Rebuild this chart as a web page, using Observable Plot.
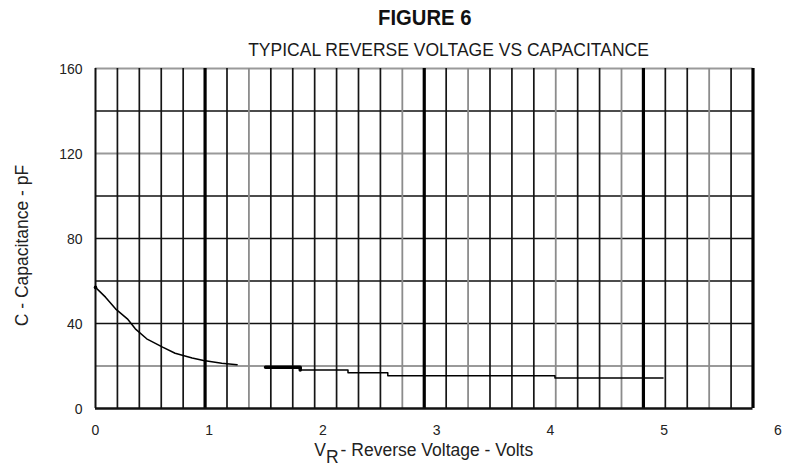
<!DOCTYPE html>
<html>
<head>
<meta charset="utf-8">
<script src="https://cdn.jsdelivr.net/npm/d3@7"></script>
<script src="https://cdn.jsdelivr.net/npm/@observablehq/plot@0.6"></script>
<style>
  body { margin: 0; background: #fff; }
  #wrap { position: relative; width: 785px; height: 468px; overflow: hidden; background: #fff; }
  .ttl { position: absolute; left: 0; text-align: center; color: #111; white-space: nowrap; }
  #fig { top: 7px; width: 850px; font: bold 22px/22px "Liberation Sans", Arial, sans-serif; }
  #fig span { display: inline-block; transform: scaleX(0.92); }
  #sub { top: 42px; width: 897px; font: 17.5px/17.5px "Liberation Sans", Arial, sans-serif; color: #1a1a1a; }
  #chart { position: absolute; left: 0; top: 60px; }
</style>
</head>
<body>
<div id="wrap">
  <div class="ttl" id="fig"><span id="figText"></span></div>
  <div class="ttl" id="sub"></div>
  <div id="chart"></div>
</div>
<script>
// ---- data ----
const titleText = "FIGURE 6";
const subtitleText = "TYPICAL REVERSE VOLTAGE VS CAPACITANCE";
const yTitle = "C - Capacitance - pF";
const xTitleMain = "V";
const xTitleSub = "R";
const xTitleRest = "- Reverse Voltage - Volts";

const xTicks = [0, 1, 2, 3, 4, 5, 6];           // volts
const yTicks = [0, 40, 80, 120, 160];           // pF
const yGridValues = [0, 20, 40, 60, 80, 100, 120, 140, 160];

// grid of the scanned chart: 30 columns, each ~0.1927 V wide
const gridColumns = 30;
const gridStep = 0.1927;
const heavyColumns = [5, 15, 25, 30];
const grayColumns = [7, 14, 17, 21, 24, 28];
const grayRows = [20, 120, 160];

// smooth part of the curve (V, pF)
const curveV  = [0, 0.088, 0.176, 0.28, 0.35, 0.45, 0.59, 0.70, 0.85, 0.95, 1.11, 1.245];
const curvePF = [57, 52.4, 46.9, 42.2, 37.5, 32.8, 28.9, 26.0, 23.8, 22.6, 21.3, 20.6];
// stepped part of the curve (V, pF)
const stepV  = [1.495, 1.80, 2.22, 2.57, 4.04, 4.99];
const stepPF = [19.4, 18.1, 16.8, 15.4, 14.4, 14.4];

// ---- build tables ----
const curve = curveV.map((v, i) => ({v, c: curvePF[i]}));
const steps = stepV.map((v, i) => ({v, c: stepPF[i]}));
const cols = d3.range(gridColumns + 1).map(i => ({i, v: i * gridStep}));
const rows = yGridValues.map(c => ({c}));

const font = '"Liberation Sans", Arial, sans-serif';

const svg = Plot.plot({
  width: 785,
  height: 408,
  marginLeft: 95,
  marginRight: 32.5,
  marginTop: 8,
  marginBottom: 60,
  style: {background: "transparent", fontFamily: font, overflow: "visible"},
  x: {domain: [0, gridColumns * gridStep], axis: null},
  y: {domain: [0, 160], axis: null},
  marks: [
    // horizontal grid
    Plot.ruleY(rows.filter(d => grayRows.includes(d.c)), {y: "c", stroke: "#9a9a9a", strokeWidth: 2}),
    Plot.ruleY(rows.filter(d => !grayRows.includes(d.c) && d.c !== 0), {y: "c", stroke: "#111", strokeWidth: 1.6}),
    // vertical grid
    Plot.ruleX(cols.filter(d => grayColumns.includes(d.i)), {x: "v", stroke: "#8c8c8c", strokeWidth: 1.8}),
    Plot.ruleX(cols.filter(d => !grayColumns.includes(d.i) && !heavyColumns.includes(d.i) && d.i !== 0), {x: "v", stroke: "#151515", strokeWidth: 1.7}),
    Plot.ruleX(cols.filter(d => heavyColumns.includes(d.i)), {x: "v", stroke: "#000", strokeWidth: 3.2}),
    Plot.ruleX(cols.filter(d => d.i === 0), {x: "v", stroke: "#111", strokeWidth: 2}),
    Plot.ruleY(rows.filter(d => d.c === 0), {y: "c", stroke: "#111", strokeWidth: 2.6}),
    // curve
    Plot.line(curve, {x: "v", y: "c", stroke: "#000", strokeWidth: 1.5}),
    Plot.dot(curve.slice(0, 1), {x: "v", y: "c", r: 1.8, fill: "#000"}),
    Plot.line(steps, {x: "v", y: "c", curve: "step-after", stroke: "#000", strokeWidth: 1.5}),
    Plot.line(steps.slice(0, 2), {x: "v", y: "c", curve: "step-after", stroke: "#000", strokeWidth: 3.5}),
    // tick labels
    Plot.text(xTicks, {x: d => d, frameAnchor: "bottom", dy: 26, text: d => String(d), fontSize: 14, fill: "#222"}),
    Plot.text(yTicks, {y: d => d, frameAnchor: "left", dx: -13, dy: 1, textAnchor: "end", text: d => String(d), fontSize: 14, fill: "#222"}),
    // y title
    Plot.text([yTitle], {frameAnchor: "left", dx: -73, dy: 7, rotate: -90, textAnchor: "middle", text: d => d, fontSize: 17.5, fill: "#222"})
  ]
});

// x title with subscript R
const cx = 95 + (785 - 95 - 32.5) / 2;
const t = d3.select(svg).append("text")
  .attr("x", cx)
  .attr("y", 396)
  .attr("text-anchor", "middle")
  .attr("font-family", font)
  .attr("font-size", 17.5)
  .attr("fill", "#222");
t.append("tspan").text(xTitleMain);
t.append("tspan").attr("dy", 7).text(xTitleSub);
t.append("tspan").attr("dy", -7).attr("dx", 2).text(xTitleRest);

document.getElementById("chart").appendChild(svg);
document.getElementById("figText").textContent = titleText;
document.getElementById("sub").textContent = subtitleText;
</script>
</body>
</html>
